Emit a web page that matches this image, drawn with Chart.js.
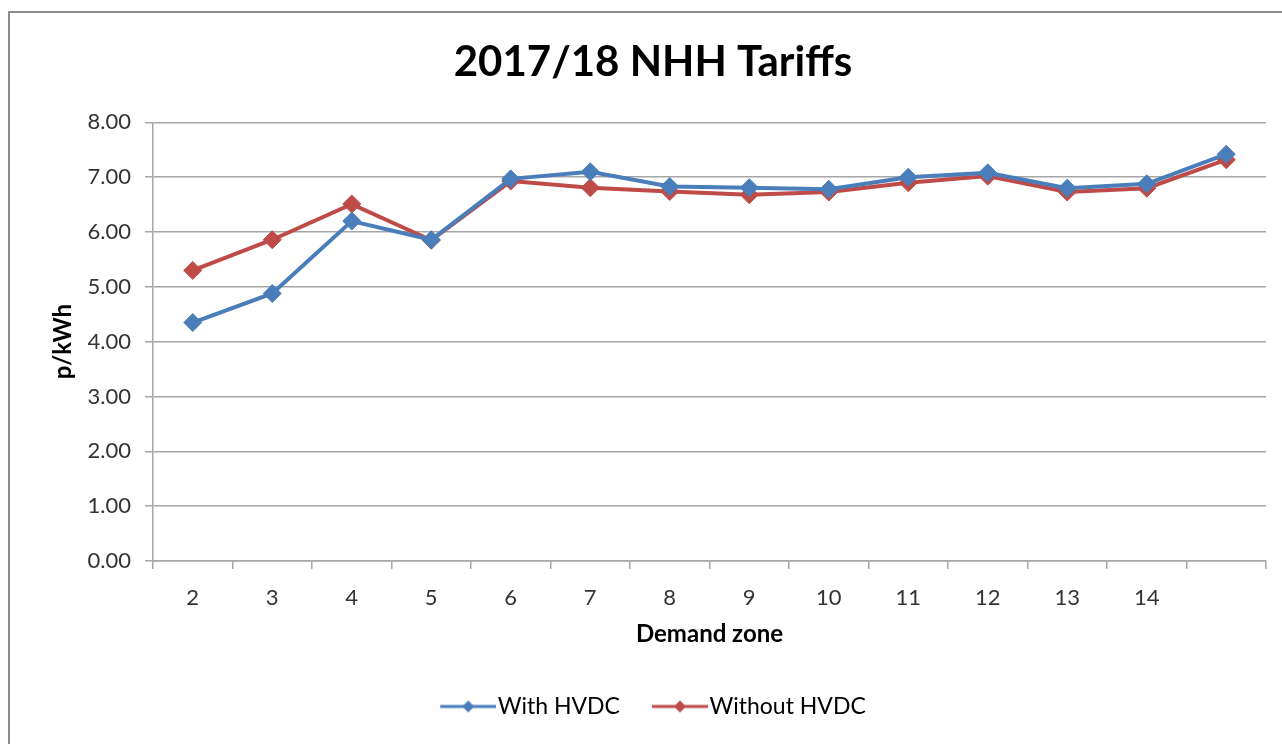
<!DOCTYPE html>
<html>
<head>
<meta charset="utf-8">
<script src="https://cdn.jsdelivr.net/npm/chart.js@4.4.0/dist/chart.umd.min.js"></script>
<style>
  body { margin: 0; background: #fff; overflow: hidden; }
  #frame { position: absolute; left: 8px; top: 11px; width: 1300px; height: 800px; border: 2px solid #8c8c8c; }
  #wrap { position: absolute; left: 0; top: 0; width: 1282px; height: 744px; }
</style>
</head>
<body>
<div id="frame"></div>
<div id="wrap"><canvas id="tariffChart" width="1282" height="744"></canvas></div>
<script>
var zones = ['2', '3', '4', '5', '6', '7', '8', '9', '10', '11', '12', '13', '14', ''];
var withHvdc = [4.35, 4.88, 6.20, 5.86, 6.97, 7.10, 6.83, 6.81, 6.78, 7.00, 7.08, 6.80, 6.88, 7.42];
var withoutHvdc = [5.30, 5.86, 6.51, 5.85, 6.93, 6.81, 6.74, 6.68, 6.73, 6.90, 7.02, 6.73, 6.80, 7.32];
var yTicks = [0, 1, 2, 3, 4, 5, 6, 7, 8];

var blue = '#4A7EBB';
var red = '#BE4B48';
var gridGrey = '#a6a6a6';

// line-with-diamond icon for the legend, like Excel does.
// transparent strip on the left gives the wider gap between items
function legendIcon(colour) {
    var c = document.createElement('canvas');
    c.width = 88; c.height = 14;
    var g = c.getContext('2d');
    g.strokeStyle = colour;
    g.lineWidth = 3;
    g.beginPath(); g.moveTo(32, 7); g.lineTo(88, 7); g.stroke();
    g.fillStyle = colour;
    g.beginPath(); g.moveTo(60, 1); g.lineTo(66, 7); g.lineTo(60, 13); g.lineTo(54, 7); g.closePath(); g.fill();
    return c;
}

// the blank strip pushes the legend right, pull it back a bit
var nudgeLegend = {
    id: 'nudgeLegend',
    afterLayout: function (c) {
        c.legend.left -= 11;
        c.legend.right -= 11;
    }
};

var ctx = document.getElementById('tariffChart').getContext('2d');
var chart = new Chart(ctx, {
    type: 'line',
    data: {
        labels: zones,
        datasets: [{
            label: 'With HVDC',
            data: withHvdc,
            borderColor: blue,
            backgroundColor: blue,
            borderWidth: 4,
            pointStyle: 'rectRot',
            pointRadius: 9,
            pointBorderWidth: 1,
            tension: 0
        }, {
            label: 'Without HVDC',
            data: withoutHvdc,
            borderColor: red,
            backgroundColor: red,
            borderWidth: 4,
            pointStyle: 'rectRot',
            pointRadius: 9,
            pointBorderWidth: 1,
            tension: 0
        }]
    },
    plugins: [nudgeLegend],
    options: {
        responsive: false,
        animation: false,
        layout: { padding: { left: 40, right: 16, top: 0, bottom: 16 } },
        plugins: {
            title: {
                display: true,
                text: '2017/18 NHH Tariffs',
                color: '#000',
                font: { family: 'Lato', size: 42, weight: 'bold' },
                padding: { top: 37, bottom: 35 }
            },
            legend: {
                position: 'bottom',
                labels: {
                    color: '#222',
                    font: { family: 'Lato', size: 23 },
                    usePointStyle: true,
                    pointStyleWidth: 68,
                    padding: 10,
                    generateLabels: function (c) {
                        return c.data.datasets.map(function (ds, i) {
                            return {
                                text: ds.label,
                                pointStyle: legendIcon(ds.borderColor),
                                fillStyle: ds.borderColor,
                                strokeStyle: ds.borderColor,
                                lineWidth: 0,
                                datasetIndex: i,
                                hidden: false
                            };
                        });
                    }
                }
            },
            tooltip: { enabled: false }
        },
        scales: {
            x: {
                offset: true,
                afterFit: function (s) { s.height = 124; },
                grid: { offset: true, drawOnChartArea: false, color: gridGrey, lineWidth: 1.5, tickLength: 8 },
                border: { color: gridGrey, width: 1.5 },
                ticks: { color: '#333', font: { family: 'Lato', size: 22 }, padding: 16, maxRotation: 0, autoSkip: false },
                title: {
                    display: true,
                    text: 'Demand zone',
                    color: '#000',
                    font: { family: 'Lato', size: 24, weight: 'bold' },
                    padding: { top: 0, bottom: 36 }
                }
            },
            y: {
                min: 0,
                max: 8,
                afterBuildTicks: function (s) { s.ticks = yTicks.map(function (v) { return { value: v }; }); },
                afterFit: function (s) { s.width = 113; },
                grid: { color: gridGrey, lineWidth: 1.5, tickLength: 8 },
                border: { color: gridGrey, width: 1.5 },
                ticks: {
                    color: '#333',
                    font: { family: 'Lato', size: 22 },
                    padding: 14,
                    callback: function (v) { return Number(v).toFixed(2); }
                },
                title: {
                    display: true,
                    text: 'p/kWh',
                    color: '#000',
                    font: { family: 'Lato', size: 24, weight: 'bold' },
                    padding: { top: 9, bottom: 8 }
                }
            }
        }
    }
});
</script>
</body>
</html>
